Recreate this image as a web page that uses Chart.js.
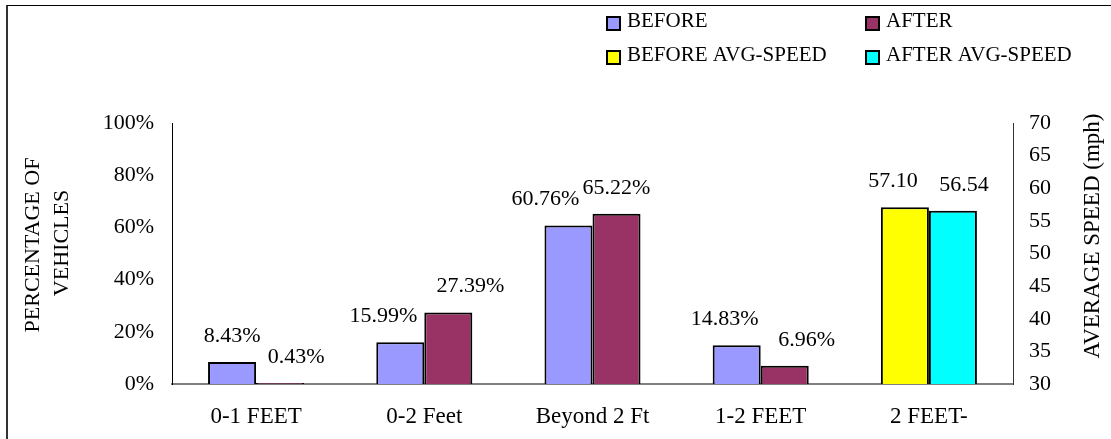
<!DOCTYPE html>
<html>
<head>
<meta charset="utf-8">
<script src="https://cdn.jsdelivr.net/npm/chart.js@4"></script>
<style>
  html, body { margin: 0; padding: 0; background: #fff; }
  #wrap { position: relative; width: 1111px; height: 439px; }
</style>
</head>
<body>
<div id="wrap"><canvas id="c" width="1111" height="439"></canvas></div>
<script>
const categories = ['0-1 FEET', '0-2 Feet', 'Beyond 2 Ft', '1-2 FEET', '2 FEET-'];
const seriesNames = ['BEFORE', 'AFTER', 'BEFORE AVG-SPEED', 'AFTER AVG-SPEED'];
const beforePct = [8.43, 15.99, 60.76, 14.83, null];
const afterPct = [0.43, 27.39, 65.22, 6.96, null];
const beforeSpeed = [null, null, null, null, 57.10];
const afterSpeed = [null, null, null, null, 56.54];
const pctTicks = [0, 20, 40, 60, 80, 100];
const speedTicks = [30, 35, 40, 45, 50, 55, 60, 65, 70];
const leftTitle = ['PERCENTAGE OF', 'VEHICLES'];
const rightTitle = 'AVERAGE SPEED (mph)';

// label horizontal nudges (styling only)
const labelDx = [
  [0, -17, -23, -12, 0],
  [16, 22, 0, 22, 0],
  [0, 0, 0, 0, -12],
  [0, 0, 0, 0, 11]
];
const FONT = '"Liberation Serif", "Times New Roman", serif';
const colors = ['#9999FF', '#993366', '#FFFF00', '#00FFFF'];

const decorPlugin = {
  id: 'decor',
  afterDraw(chart) {
    const ctx = chart.ctx;
    ctx.save();
    // outer frame
    ctx.strokeStyle = '#333';
    ctx.lineWidth = 2;
    ctx.beginPath(); ctx.moveTo(7, 5); ctx.lineTo(7, 439); ctx.stroke();
    ctx.strokeStyle = '#000';
    ctx.lineWidth = 1;
    ctx.beginPath(); ctx.moveTo(7, 5.5); ctx.lineTo(1111, 5.5); ctx.stroke();

    ctx.fillStyle = '#000';
    ctx.font = '22px ' + FONT;
    // data labels
    chart.data.datasets.forEach((ds, di) => {
      const meta = chart.getDatasetMeta(di);
      meta.data.forEach((el, i) => {
        const v = ds.data[i];
        if (v === null || v === undefined) return;
        const txt = di < 2 ? v.toFixed(2) + '%' : v.toFixed(2);
        ctx.textAlign = 'center';
        ctx.textBaseline = 'middle';
        ctx.fillText(txt, el.x + labelDx[di][i], el.y - 26);
      });
    });

    // legend (2x2)
    ctx.font = '21px ' + FONT;
    const pos = [[607, 27], [866, 27], [607, 61], [866, 61]];
    chart.data.datasets.forEach((ds, di) => {
      const [x, y] = pos[di];
      ctx.fillStyle = ds.backgroundColor;
      ctx.fillRect(x, y - 10, 13, 13);
      ctx.strokeStyle = '#000';
      ctx.lineWidth = 2;
      ctx.strokeRect(x, y - 10, 13, 13);
      ctx.fillStyle = '#000';
      ctx.textAlign = 'left';
      ctx.textBaseline = 'alphabetic';
      ctx.fillText(ds.label, x + 20, y);
    });

    // axis titles
    ctx.font = '22px ' + FONT;
    ctx.textAlign = 'center';
    ctx.textBaseline = 'middle';
    ctx.save();
    ctx.translate(33, 245);
    ctx.rotate(-Math.PI / 2);
    ctx.fillText(leftTitle[0], 0, 0);
    ctx.restore();
    ctx.save();
    ctx.translate(62, 243);
    ctx.rotate(-Math.PI / 2);
    ctx.fillText(leftTitle[1], 0, 0);
    ctx.restore();
    ctx.save();
    ctx.translate(1093, 236);
    ctx.rotate(-Math.PI / 2);
    ctx.font = '23px ' + FONT;
    ctx.fillText(rightTitle, 0, 0);
    ctx.restore();
    ctx.restore();
  }
};

const mk = (label, data, color, axis) => ({
  label, data, yAxisID: axis,
  backgroundColor: color, borderColor: '#000', borderWidth: 2,
  barPercentage: 1, categoryPercentage: 0.571, skipNull: true
});

new Chart(document.getElementById('c'), {
  type: 'bar',
  data: {
    labels: categories,
    datasets: [
      mk(seriesNames[0], beforePct, colors[0], 'y'),
      mk(seriesNames[1], afterPct, colors[1], 'y'),
      mk(seriesNames[2], beforeSpeed, colors[2], 'y2'),
      mk(seriesNames[3], afterSpeed, colors[3], 'y2')
    ]
  },
  options: {
    responsive: false,
    animation: false,
    layout: { padding: { top: 123, left: 0, right: 0, bottom: 0 } },
    plugins: { legend: { display: false }, tooltip: { enabled: false } },
    scales: {
      x: {
        grid: { display: false, drawTicks: false },
        border: { display: true, color: '#808080', width: 2 },
        ticks: { color: '#000', font: { family: FONT, size: 23 }, padding: 19, maxRotation: 0 },
        afterFit(s) { s.height = 55; }
      },
      y: {
        position: 'left', min: 0, max: 100,
        afterBuildTicks(s) { s.ticks = pctTicks.map(v => ({ value: v })); },
        grid: { display: false, drawTicks: false },
        border: { display: true, color: '#000', width: 1 },
        ticks: { color: '#000', font: { family: FONT, size: 22 }, padding: 18, callback: v => v + '%' },
        afterFit(s) { s.width = 172; }
      },
      y2: {
        position: 'right', min: 30, max: 70,
        afterBuildTicks(s) { s.ticks = speedTicks.map(v => ({ value: v })); },
        grid: { display: false, drawTicks: false },
        border: { display: true, color: '#333', width: 1 },
        ticks: { color: '#000', font: { family: FONT, size: 22 }, padding: 16 },
        afterFit(s) { s.width = 98; }
      }
    }
  },
  plugins: [decorPlugin]
});
</script>
</body>
</html>
